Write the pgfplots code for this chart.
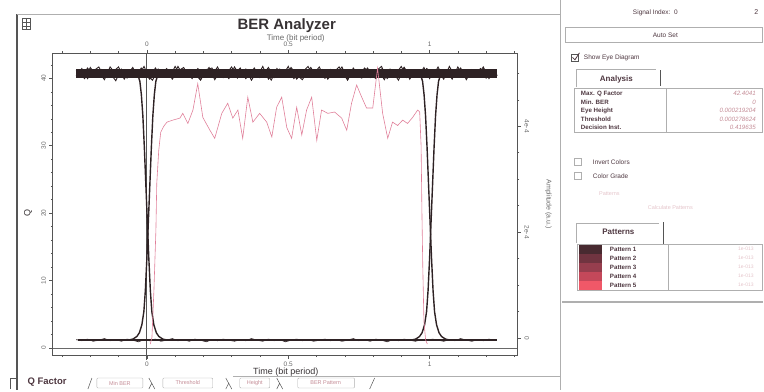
\documentclass[border=0pt]{standalone}
\usepackage{pgfplots}
\usepackage{pgfplotstable}
\pgfplotsset{compat=1.18}
\usepackage{fontspec}
\setmainfont{Liberation Sans}
\definecolor{eye}{RGB}{46,34,36}
\definecolor{qline}{RGB}{224,128,154}
\definecolor{frame}{RGB}{85,85,85}
\definecolor{tickc}{RGB}{105,105,105}
\definecolor{titlec}{RGB}{55,50,52}
\definecolor{uiline}{RGB}{175,175,175}
\definecolor{uitext}{RGB}{78,55,64}
\definecolor{valtext}{RGB}{196,140,150}
\definecolor{fainttext}{RGB}{228,196,202}
\definecolor{pA}{RGB}{72,42,48}
\definecolor{pB}{RGB}{112,52,64}
\definecolor{pC}{RGB}{150,62,78}
\definecolor{pD}{RGB}{196,72,90}
\definecolor{pE}{RGB}{240,88,104}

\pgfplotstableread{
t u1 u2 l1 tm u3
-0.25 5.06 4.95 -0.03 -0.24 5.01
-0.23 4.93 5.09 -0.05 -0.22 4.90
-0.21 5.10 4.90 -0.02 -0.20 5.11
-0.19 4.97 5.04 -0.06 -0.18 4.96
-0.17 5.02 5.12 -0.04 -0.16 5.07
-0.15 4.88 4.93 -0.01 -0.14 4.92
-0.13 5.12 5.00 -0.05 -0.12 5.03
-0.11 4.99 4.86 -0.03 -0.10 5.12
-0.09 5.05 5.08 -0.06 -0.08 4.89
-0.07 4.91 4.97 -0.02 -0.06 5.06
-0.05 5.08 5.11 -0.04 -0.04 4.94
-0.03 4.95 4.92 -0.07 -0.02 5.10
-0.01 5.13 5.02 -0.03 0.00 4.98
0.01 4.90 4.89 -0.05 0.02 4.87
0.03 5.03 5.10 -0.02 0.04 5.08
0.05 4.97 4.96 -0.06 0.06 5.02
0.07 5.09 5.05 -0.04 0.08 4.93
0.09 4.89 4.91 -0.01 0.10 5.13
0.11 5.04 5.13 -0.05 0.12 4.95
0.13 5.11 4.94 -0.03 0.14 5.04
0.15 4.94 5.07 -0.06 0.16 4.90
0.17 5.00 4.99 -0.02 0.18 5.09
0.19 4.87 4.88 -0.04 0.20 4.97
0.21 5.07 5.06 -0.07 0.22 5.11
0.23 4.96 5.10 -0.03 0.24 4.88
0.25 5.12 4.93 -0.05 0.26 5.05
0.27 4.92 5.03 -0.02 0.28 4.99
0.29 5.05 4.90 -0.04 0.30 5.12
0.31 4.98 5.12 -0.06 0.32 4.91
0.33 5.10 4.95 -0.03 0.34 5.06
0.35 4.90 5.08 -0.05 0.36 4.96
0.37 5.06 4.87 -0.01 0.38 5.10
0.39 4.94 5.04 -0.04 0.40 4.92
0.41 5.13 4.98 -0.06 0.42 5.03
0.43 4.89 5.11 -0.02 0.44 4.87
0.45 5.02 4.92 -0.05 0.46 5.09
0.47 5.08 5.06 -0.03 0.48 4.95
0.49 4.93 4.96 -0.07 0.50 5.13
0.51 5.11 5.09 -0.04 0.52 4.90
0.53 4.97 4.89 -0.02 0.54 5.04
0.55 4.88 5.02 -0.05 0.56 4.98
0.57 5.05 5.13 -0.03 0.58 5.11
0.59 4.99 4.94 -0.06 0.60 4.93
0.61 5.12 5.00 -0.04 0.62 5.07
0.63 4.91 4.91 -0.02 0.64 4.89
0.65 5.07 5.07 -0.05 0.66 5.02
0.67 4.95 4.97 -0.03 0.68 5.12
0.69 5.03 5.12 -0.06 0.70 4.94
0.71 4.87 4.88 -0.04 0.72 5.06
0.73 5.10 5.05 -0.01 0.74 4.97
0.75 4.96 4.93 -0.05 0.76 4.91
0.77 5.09 5.10 -0.03 0.78 5.10
0.79 4.92 4.99 -0.06 0.80 4.96
0.81 5.04 4.90 -0.02 0.82 5.05
0.83 5.13 5.08 -0.04 0.84 4.88
0.85 4.90 4.95 -0.07 0.86 5.08
0.87 5.01 5.03 -0.03 0.88 4.99
0.89 4.95 4.87 -0.05 0.90 5.13
0.91 5.11 5.11 -0.02 0.92 4.92
0.93 4.89 4.96 -0.04 0.94 5.03
0.95 5.06 5.06 -0.06 0.96 4.95
0.97 4.98 4.92 -0.03 0.98 5.11
0.99 5.08 5.09 -0.05 1.00 4.90
1.01 4.93 4.98 -0.02 1.02 5.07
1.03 5.12 5.04 -0.04 1.04 4.97
1.05 4.91 4.89 -0.06 1.06 5.04
1.07 5.04 5.13 -0.03 1.08 4.89
1.09 4.97 4.94 -0.05 1.10 5.12
1.11 5.10 5.01 -0.01 1.12 4.94
1.13 4.88 4.91 -0.04 1.14 5.06
1.15 5.05 5.07 -0.06 1.16 4.98
1.17 4.94 4.97 -0.03 1.18 5.09
1.19 5.09 5.12 -0.05 1.20 4.91
1.21 4.99 4.90 -0.02 1.22 5.03
1.23 4.92 5.05 -0.04 1.24 4.96
}\eyedata

\pgfplotsset{commonax/.style={
  at={(53pt,35pt)}, anchor=south west, scale only axis,
  width=465pt, height=302pt,
  xmin=-0.3322, xmax=1.3110,
  axis line style={draw=frame, line width=0.9pt},
  tick style={draw=frame, line width=0.5pt},
  tick align=outside, major tick length=3.5pt, minor tick length=2pt,
  ticklabel style={font=\fontsize{6.5}{7}\selectfont, text=tickc},
  /pgf/number format/assume math mode=true,
  clip=false,
}}

\begin{document}
\begin{tikzpicture}
\begin{scope}[x=1pt,y=-1pt,shift={(0pt,390pt)}]
\path[use as bounding box] (0,0) rectangle (764,390);
\end{scope}

% ---------- eye diagram (amplitude, right axis) ----------
\begin{axis}[commonax,
  ymin=-0.321, ymax=5.377,
  xtick={0,0.5,1}, xticklabels={0,0.5,1},
  minor xtick={-0.3,-0.2,-0.1,0.1,0.2,0.3,0.4,0.6,0.7,0.8,0.9,1.1,1.2,1.3},
  xtick pos=bottom, xticklabel pos=lower,
  ytick={0,2,4}, yticklabels={0,2e-4,4e-4},
  minor ytick={0.5,1,1.5,2.5,3,3.5,4.5,5},
  ytick pos=right, yticklabel pos=right,
  yticklabel style={rotate=-90, anchor=south},
]
\addplot[frame, line width=0.8pt] coordinates {(0,5.377) (0,-0.42)};
\addplot[eye, line width=9pt] coordinates {(-0.25,5.0) (1.24,5.0)};
\addplot[eye, line width=0.9pt] table[x=t,y=u1] {\eyedata};
\addplot[eye, line width=0.9pt] table[x=t,y=u2] {\eyedata};
\addplot[eye, line width=0.9pt] table[x=tm,y=u3] {\eyedata};
\addplot[eye, line width=2.2pt] coordinates {(-0.245,-0.04) (1.24,-0.04)};
\addplot[eye, line width=0.7pt] table[x=t,y=l1] {\eyedata};
% transitions at t = 0
\addplot[eye, line width=1.4pt] coordinates {(-0.046,5.0) (-0.0318,4.97) (-0.0248,4.85) (-0.0195,4.6) (-0.0142,4.2) (-0.0089,3.6) (-0.0036,2.9) (0.0017,2.2) (0.0070,1.5) (0.0123,0.9) (0.0176,0.5) (0.0247,0.25) (0.0335,0.1) (0.0424,0.03) (0.0565,-0.02) (0.0742,-0.04)};
\addplot[eye, line width=1.4pt] coordinates {(0.053,5.0) (0.0388,4.97) (0.0318,4.85) (0.0265,4.6) (0.0212,4.2) (0.0159,3.6) (0.0106,2.9) (0.0053,2.2) (0.0,1.5) (-0.0053,0.9) (-0.0106,0.5) (-0.0177,0.25) (-0.0265,0.1) (-0.0354,0.03) (-0.0495,-0.02) (-0.0672,-0.04)};
% transitions at t = 1
\addplot[eye, line width=1.4pt] coordinates {(0.954,5.0) (0.9682,4.97) (0.9752,4.85) (0.9805,4.6) (0.9858,4.2) (0.9911,3.6) (0.9964,2.9) (1.0017,2.2) (1.0070,1.5) (1.0123,0.9) (1.0176,0.5) (1.0247,0.25) (1.0335,0.1) (1.0424,0.03) (1.0565,-0.02) (1.0742,-0.04)};
\addplot[eye, line width=1.4pt] coordinates {(1.053,5.0) (1.0388,4.97) (1.0318,4.85) (1.0265,4.6) (1.0212,4.2) (1.0159,3.6) (1.0106,2.9) (1.0053,2.2) (1.0,1.5) (0.9947,0.9) (0.9894,0.5) (0.9823,0.25) (0.9735,0.1) (0.9646,0.03) (0.9505,-0.02) (0.9328,-0.04)};
\end{axis}

% ---------- Q factor (left axis) ----------
\begin{axis}[commonax,
  ymin=-1.037, ymax=43.70,
  xtick={0,0.5,1}, xticklabels={0,0.5,1},
  minor xtick={-0.3,-0.2,-0.1,0.1,0.2,0.3,0.4,0.6,0.7,0.8,0.9,1.1,1.2,1.3},
  xtick pos=top, xticklabel pos=upper,
  ytick={0,10,20,30,40},
  minor ytick={2,4,6,8,12,14,16,18,22,24,26,28,32,34,36,38,42},
  ytick pos=left, yticklabel pos=left,
  yticklabel style={rotate=90, anchor=south},
]
\addplot[tickc, line width=0.5pt] coordinates {(-0.3322,0) (1.3110,0)};
\addplot[qline, line width=0.6pt] coordinates {
(0.012,0.6) (0.018,1.6) (0.025,8.6) (0.032,17.5) (0.035,24.4) (0.042,29.3) (0.049,32.0) (0.060,32.9) (0.071,33.5) (0.092,33.8) (0.117,34.1) (0.127,34.8) (0.145,33.3) (0.163,35.3) (0.180,39.2) (0.198,34.2) (0.223,32.3) (0.240,31.1) (0.265,34.8) (0.286,36.3) (0.304,34.1) (0.322,35.3) (0.339,31.1) (0.357,37.2) (0.375,33.5) (0.399,34.8) (0.424,33.5) (0.442,31.3) (0.459,35.7) (0.477,37.2) (0.495,32.7) (0.512,31.1) (0.530,35.7) (0.548,31.6) (0.565,35.3) (0.583,37.2) (0.601,30.8) (0.618,35.3) (0.640,34.8) (0.664,35.0) (0.689,34.1) (0.707,32.3) (0.724,36.3) (0.742,39.0) (0.760,37.2) (0.777,35.6) (0.799,35.6) (0.816,41.5) (0.834,34.8) (0.852,31.1) (0.869,33.5) (0.887,33.0) (0.905,33.8) (0.922,33.3) (0.940,34.2) (0.958,35.3) (0.965,35.0) (0.970,30.0) (0.973,20.0) (0.976,12.0) (0.980,4.0) (0.986,1.2) (0.992,0.6)};
\end{axis}

\begin{scope}[x=1pt,y=-1pt,shift={(0pt,390pt)}]
% ---------- titles and axis labels ----------
\node[font=\fontsize{15}{16}\selectfont\bfseries, text=titlec] at (287,25) {BER Analyzer};
\node[font=\fontsize{8}{9}\selectfont, text=tickc] at (296,38) {Time (bit period)};
\node[font=\fontsize{9}{10}\selectfont, text=titlec] at (286,372) {Time (bit period)};
\node[rotate=90, font=\fontsize{9}{10}\selectfont, text=titlec] at (28,213) {Q};
\node[rotate=-90, font=\fontsize{7}{8}\selectfont, text=tickc] at (549,204) {Amplitude (a.u.)};

% ---------- window frame ----------
\draw[line width=2.2pt, frame] (17,14) -- (17,390);
\draw[uiline, line width=0.6pt] (17,14) -- (561,14);
\draw[uiline, line width=0.8pt] (561,0) -- (561,390);
\draw[frame, line width=0.6pt] (22,18) rectangle (30,29);
\draw[frame, line width=0.5pt] (22,22) -- (30,22) (22,25.5) -- (30,25.5) (26,18) -- (26,29);

% ---------- bottom tabs ----------
\draw[uiline, line width=0.6pt] (233,376) -- (561,376);
\draw[frame, line width=0.6pt] (10,389) -- (10,378) -- (16,378);
\node[font=\fontsize{9.5}{10}\selectfont\bfseries, text=uitext, anchor=west] at (24,382) {Q Factor};
\draw[frame, line width=0.5pt] (88,389) -- (92,378);
\draw[uiline, rounded corners=1pt] (97,378) rectangle (143,388);
\node[font=\fontsize{5.5}{6}\selectfont, text=valtext] at (120,383) {Min BER};
\draw[frame, line width=0.5pt] (149,378) -- (155,389) (152,383) -- (149,389);
\draw[uiline, rounded corners=1pt] (163,378) rectangle (213,388);
\node[font=\fontsize{5.5}{6}\selectfont, text=valtext] at (188,383) {Threshold};
\draw[frame, line width=0.5pt] (226,378) -- (232,389) (229,383) -- (226,389);
\draw[uiline, rounded corners=1pt] (240,378) rectangle (270,388);
\node[font=\fontsize{5.5}{6}\selectfont, text=valtext] at (255,383) {Height};
\draw[frame, line width=0.5pt] (277,378) -- (283,389) (280,383) -- (277,389);
\draw[uiline, rounded corners=1pt] (298,378) rectangle (355,388);
\node[font=\fontsize{5.5}{6}\selectfont, text=valtext] at (326,383) {BER Pattern};
\draw[frame, line width=0.5pt] (370,389) -- (375,378);

% ---------- right panel ----------
\node[font=\fontsize{6.5}{7}\selectfont, text=uitext] at (656,12) {Signal Index:\ \ 0};
\node[font=\fontsize{7}{8}\selectfont, text=uitext] at (757,12) {2};
\draw[uiline, line width=0.6pt] (566,27) rectangle (763,42);
\node[font=\fontsize{6.5}{7}\selectfont, text=uitext] at (666,35) {Auto Set};
\draw[frame, line width=0.5pt] (572,53.5) rectangle (579,60.5);
\draw[uitext, line width=0.8pt] (573,57) -- (575.5,59.5) -- (580,52.5);
\node[font=\fontsize{6.5}{7}\selectfont, text=uitext, anchor=west] at (581,57) {Show Eye Diagram};

\draw[uiline, line width=0.7pt] (577,87) -- (577,69) -- (657,69);
\draw[frame, line width=0.7pt] (661,70) -- (661,86);
\node[font=\fontsize{8}{9}\selectfont\bfseries, text=uitext] at (617,79) {Analysis};
\draw[uiline, line width=0.7pt] (575,88) rectangle (763,132);
\draw[uiline, line width=0.5pt] (667,88) -- (667,132);
\foreach \yy/\lab/\val in {93.5/Max. Q Factor/42.4041, 102/Min. BER/0, 110.5/Eye Height/0.000219204, 119/Threshold/0.000278624, 127.5/Decision Inst./0.419635}{
  \node[font=\fontsize{6.2}{7}\selectfont\bfseries, text=uitext, anchor=west] at (578,\yy) {\lab};
  \node[font=\fontsize{6.2}{7}\selectfont\itshape, text=valtext, anchor=east] at (760,\yy) {\val};
}

\draw[uiline, line width=0.6pt] (575,158) rectangle (582,165);
\node[font=\fontsize{6.5}{7}\selectfont, text=uitext, anchor=west] at (590,162) {Invert Colors};
\draw[uiline, line width=0.6pt] (575,172.5) rectangle (582,179.5);
\node[font=\fontsize{6.5}{7}\selectfont, text=uitext, anchor=west] at (590,176) {Color Grade};
\node[font=\fontsize{5.5}{6}\selectfont, text=fainttext] at (610,193) {Patterns};
\node[font=\fontsize{5.5}{6}\selectfont, text=fainttext] at (671,207) {Calculate Patterns};

\draw[uiline, line width=0.7pt] (577,243) -- (577,223) -- (660,223);
\draw[frame, line width=0.7pt] (664,222) -- (664,244);
\node[font=\fontsize{8}{9}\selectfont\bfseries, text=uitext] at (619,232) {Patterns};
\draw[uiline, line width=0.7pt] (578,244) rectangle (763,290);
\draw[uiline, line width=0.5pt] (669,244) -- (669,290);
\foreach \yy/\cc/\lab in {249/pA/Pattern 1, 258/pB/Pattern 2, 267/pC/Pattern 3, 276/pD/Pattern 4, 285/pE/Pattern 5}{
  \fill[\cc] (580,\yy-4.5) rectangle (603,\yy+4.5);
  \node[font=\fontsize{6.2}{7}\selectfont\bfseries, text=uitext, anchor=west] at (607,\yy) {\lab};
  \node[font=\fontsize{5}{6}\selectfont, text=fainttext, anchor=east] at (758,\yy) {1e-013};
}
\draw[uiline, line width=1.5pt] (563,302) -- (764,302);
\end{scope}
\end{tikzpicture}
\end{document}
